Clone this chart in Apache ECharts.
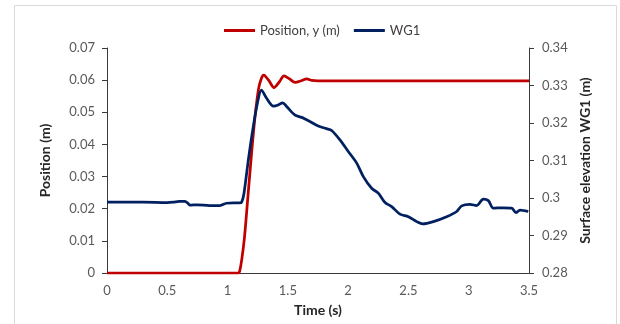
<!DOCTYPE html>
<html><head><meta charset="utf-8">
<script src="https://cdn.jsdelivr.net/npm/echarts@6/dist/echarts.min.js"></script>
<style>html,body{margin:0;padding:0;background:#fff}#c{width:620px;height:324px}</style>
</head><body><div id="c"></div>
<script>
const posName = 'Position, y (m)';
const wgName = 'WG1';
const tPos = [0, 1.09, 1.10, 1.117, 1.14, 1.171, 1.219, 1.255, 1.28, 1.30, 1.34, 1.385, 1.43, 1.468, 1.51, 1.56, 1.61, 1.656, 1.70, 1.75, 3.5];
const yPos = [0, 0, 0.0005, 0.004, 0.011, 0.0248, 0.0455, 0.0569, 0.0605, 0.0616, 0.0600, 0.0577, 0.0595, 0.0613, 0.0605, 0.0593, 0.0598, 0.0604, 0.0599, 0.0598, 0.0598];
const tWG = [0, 0.3, 0.5, 0.55, 0.6, 0.647, 0.67, 0.69, 0.75, 0.85, 0.937, 0.99, 1.05, 1.10, 1.117, 1.136, 1.172, 1.213, 1.247, 1.28, 1.324, 1.38, 1.42, 1.457, 1.49, 1.56, 1.614, 1.683, 1.752, 1.82, 1.863, 1.932, 2.001, 2.071, 2.126, 2.195, 2.25, 2.306, 2.361, 2.43, 2.5, 2.569, 2.618, 2.707, 2.817, 2.9, 2.942, 3.01, 3.066, 3.121, 3.163, 3.204, 3.287, 3.356, 3.392, 3.425, 3.494];
const yWG = [0.2989, 0.2989, 0.2988, 0.2989, 0.2991, 0.2991, 0.2986, 0.2981, 0.2982, 0.2980, 0.2980, 0.2986, 0.2987, 0.2987, 0.2989, 0.3012, 0.3101, 0.3190, 0.3252, 0.3288, 0.3266, 0.3245, 0.3248, 0.3254, 0.3244, 0.3221, 0.3215, 0.3204, 0.3192, 0.3185, 0.3180, 0.3155, 0.3124, 0.3093, 0.3057, 0.3026, 0.3013, 0.2988, 0.2977, 0.2957, 0.2950, 0.2937, 0.2931, 0.2937, 0.2950, 0.2964, 0.2979, 0.2983, 0.2980, 0.2997, 0.2993, 0.2973, 0.2974, 0.2973, 0.2961, 0.2968, 0.2964];
const xTitle = 'Time (s)';
const yLeftTitle = 'Position (m)';
const yRightTitle = 'Surface elevation WG1 (m)';

const FONT = 'Lato';
const lab = {color:'#595959', fontFamily:FONT, fontSize:13};
const ttl = {color:'#262626', fontFamily:FONT, fontSize:14, fontWeight:'bold'};
const axLine = {show:true, lineStyle:{color:'#3a3a3a', width:1}};
const chart = echarts.init(document.getElementById('c'), null, {renderer:'canvas'});
chart.setOption({
  animation:false,
  backgroundColor:'#fff',
  graphic:[{type:'rect', shape:{x:14.5, y:5.5, width:602, height:330}, style:{fill:'none', stroke:'#d9d9d9', lineWidth:1}, silent:true}],
  legend:{top:19, left:219, itemWidth:31, itemHeight:3, itemGap:14, icon:'rect',
    textStyle:{color:'#404040', fontFamily:FONT, fontSize:13},
    data:[posName, wgName]},
  grid:{left:107, right:91, top:48, bottom:51},
  xAxis:{type:'value', min:0, max:3.5, interval:0.5,
    axisLine:{show:true, onZero:false, lineStyle:{color:'#3a3a3a', width:1}}, axisTick:{show:false}, splitLine:{show:false},
    axisLabel:Object.assign({margin:11}, lab),
    name:xTitle, nameLocation:'middle', nameGap:30, nameTextStyle:ttl},
  yAxis:[
    {type:'value', min:0, max:0.07, interval:0.01, position:'left',
      axisLine:axLine, axisTick:{show:true, length:5, lineStyle:{color:'#3a3a3a'}}, splitLine:{show:false},
      axisLabel:Object.assign({margin:12, formatter:v=>String(+v.toFixed(2))}, lab),
      name:yLeftTitle, nameLocation:'middle', nameGap:55, nameRotate:90, nameTextStyle:ttl},
    {type:'value', min:0.28, max:0.34, interval:0.01, position:'right',
      axisLine:axLine, axisTick:{show:true, length:5, lineStyle:{color:'#3a3a3a'}}, splitLine:{show:false},
      axisLabel:Object.assign({margin:13, formatter:v=>String(+v.toFixed(2))}, lab),
      name:yRightTitle, nameLocation:'middle', nameGap:43, nameRotate:90, nameTextStyle:ttl}
  ],
  series:[
    {name:posName, type:'line', yAxisIndex:0, showSymbol:false, smooth:0.3,
      lineStyle:{color:'#c00000', width:2.75}, itemStyle:{color:'#c00000'},
      data:tPos.map((t,i)=>[t,yPos[i]])},
    {name:wgName, type:'line', yAxisIndex:1, showSymbol:false, smooth:0.3,
      lineStyle:{color:'#002060', width:2.75}, itemStyle:{color:'#002060'},
      data:tWG.map((t,i)=>[t,yWG[i]])}
  ]
});
</script></body></html>
